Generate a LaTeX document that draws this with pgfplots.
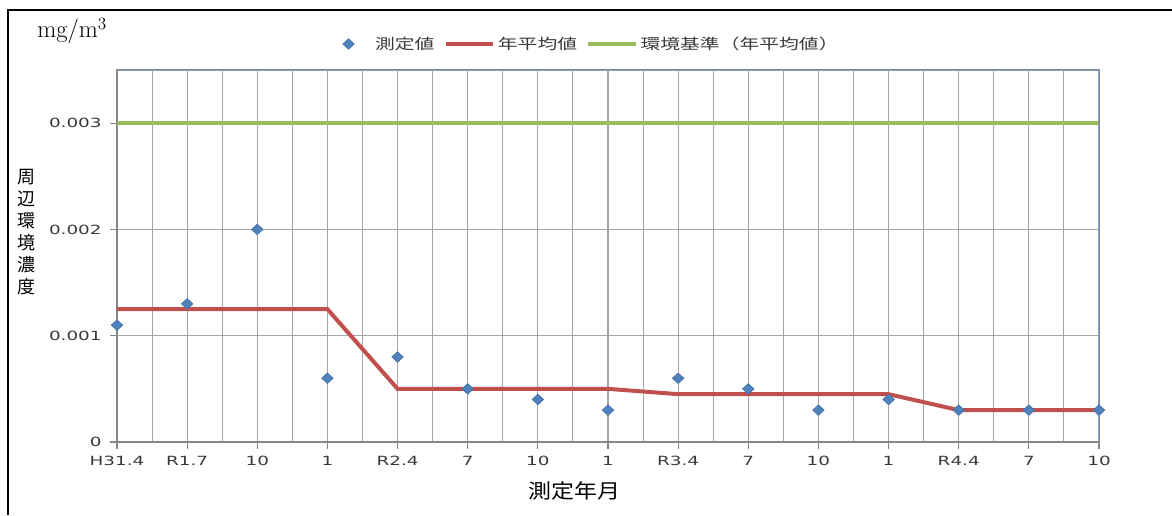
\documentclass[border=0pt]{standalone}
\usepackage{fontspec}
\usepackage{pgfplots}
\pgfplotsset{compat=1.18}

\newfontfamily\jpfont{Noto Sans CJK JP}
\newfontfamily\jpwide[FakeStretch=1.15]{Noto Sans CJK JP}
\newfontfamily\legfont[FakeStretch=1.35]{Noto Sans CJK JP}
\newfontfamily\tickfont[FakeStretch=1.45]{DejaVu Sans}

\definecolor{measblue}{HTML}{4F81BD}
\definecolor{avgred}{HTML}{C0504D}
\definecolor{stdgreen}{HTML}{9BBB59}
\definecolor{gridgray}{HTML}{A6A6A6}
\definecolor{axgray}{HTML}{868686}
\definecolor{frameblue}{HTML}{7F9FC4}
\definecolor{labelgray}{HTML}{3A3A3A}

\pgfplotsset{
  lineleg/.style={legend image code/.code={\draw[##1] (0cm,0cm) -- (1.25cm,0cm);}},
  markleg/.style={legend image code/.code={%
    \path[draw=none] (0cm,0cm) -- (0.75cm,0cm);
    \draw[##1, only marks] plot coordinates {(0.12cm,0cm)};}},
  measmark/.style={only marks, mark=diamond*, mark size=4pt,
    mark options={xscale=1.45, fill=measblue, draw=measblue!85!black, line width=0.4pt}},
}

\begin{document}
\begin{tikzpicture}
\path[use as bounding box] (0,0) rectangle (879pt,386.25pt);
\draw[black, line width=1.5pt] (6pt,0) -- (6pt,378.75pt) -- (879pt,378.75pt);

\begin{axis}[
  at={(87.75pt,54.75pt)}, anchor=south west, scale only axis,
  width=736.5pt, height=279pt,
  xmin=0, xmax=14, ymin=0, ymax=0.0035,
  xtick={0,...,14},
  xticklabels={H31.4,R1.7,10,1,R2.4,7,10,1,R3.4,7,10,1,R4.4,7,10},
  minor x tick num=1,
  ytick={0,0.001,0.002,0.003},
  yticklabels={0,0.001,0.002,0.003},
  scaled y ticks=false,
  grid=both,
  major grid style={gridgray, line width=0.8pt},
  minor grid style={gridgray, line width=0.8pt},
  minor tick length=0pt,
  major tick length=5pt,
  tick align=outside,
  xtick pos=bottom, ytick pos=left,
  tick style={axgray, line width=0.8pt},
  axis line style={axgray, line width=0.9pt},
  ticklabel style={font=\tickfont\fontsize{9.5}{11}\selectfont, text=labelgray},
  xticklabel style={yshift=-2pt},
  yticklabel style={xshift=-3pt},
  legend style={at={(0.4837,1.07)}, anchor=center, draw=none, fill=none,
    legend columns=3, inner sep=0pt,
    font=\legfont\fontsize{11}{13}\selectfont, text=labelgray,
    /tikz/every even column/.append style={column sep=5pt}},
]
\addlegendimage{measmark, markleg}
\addlegendentry{測定値}
\addlegendimage{lineleg, avgred, line width=3pt}
\addlegendentry{年平均値}
\addlegendimage{lineleg, stdgreen, line width=3pt}
\addlegendentry{環境基準（年平均値）}

% environmental standard (annual mean)
\addplot[stdgreen, line width=3pt, forget plot] coordinates {(0,0.003) (14,0.003)};
% annual mean
\addplot[avgred, line width=3pt, forget plot] coordinates {
  (0,0.00125) (3,0.00125) (4,0.0005) (7,0.0005)
  (8,0.00045) (11,0.00045) (12,0.0003) (14,0.0003)};
% measured values
\addplot[measmark, forget plot] coordinates {
  (0,0.0011) (1,0.0013) (2,0.0020) (3,0.0006) (4,0.0008)
  (5,0.0005) (6,0.0004) (7,0.0003) (8,0.0006) (9,0.0005)
  (10,0.0003) (11,0.0004) (12,0.0003) (13,0.0003) (14,0.0003)};

\draw[frameblue, line width=1pt] (rel axis cs:0,1) -- (rel axis cs:1,1) -- (rel axis cs:1,0);
\end{axis}

\node[anchor=base west, inner sep=0pt, font=\fontsize{18.5}{20}\selectfont]
  at (27.75pt,357.75pt) {mg/m\textsuperscript{3}};
\node[align=center, inner sep=0pt, font=\jpfont\fontsize{13.5}{16.5}\selectfont]
  at (19.5pt,212.25pt) {周\\辺\\環\\境\\濃\\度};
\node[inner sep=0pt, font=\jpwide\fontsize{15}{18}\selectfont]
  at (430.5pt,18pt) {測定年月};
\end{tikzpicture}
\end{document}
